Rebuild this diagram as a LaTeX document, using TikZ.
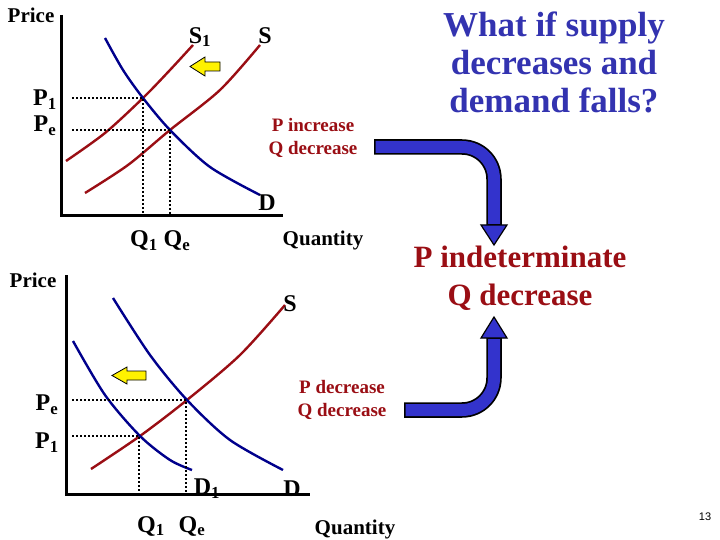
\documentclass[tikz,border=0pt]{standalone}
\usepackage{fontspec}
\setmainfont{Liberation Serif}
\newfontfamily\arialf{Liberation Sans}
\definecolor{dred}{HTML}{9A0E14}
\definecolor{dblue}{HTML}{00008C}
\definecolor{tblue}{HTML}{3333B0}
\definecolor{abl}{HTML}{3333CC}
\begin{document}
\begin{tikzpicture}[x=1pt,y=-1pt,
 ax/.style={line width=3pt},
 sup/.style={dred,line width=2.4pt},
 dem/.style={dblue,line width=2.4pt},
 dots/.style={line width=2pt,dotted},
 lab/.style={font=\bfseries\fontsize{21}{21}\selectfont},
 glab/.style={font=\bfseries\fontsize{24}{24}\selectfont},
 note/.style={dred,font=\bfseries\fontsize{19}{23}\selectfont,align=center},
 yarrow/.style={fill=yellow,draw=black,line width=0.8pt}]
\useasboundingbox (0,0) rectangle (720,540);
% ---- top graph
\draw[ax] (61,15) -- (61,216) -- (283,216);
\draw[sup] plot[smooth] coordinates {(66,161) (105,133) (143,98) (170,70) (193,45)};
\draw[sup] plot[smooth] coordinates {(85,193) (128,165) (170,130) (220,90) (260,45)};
\draw[dem] plot[smooth] coordinates {(105,38) (123,70) (143,98) (170,130) (210,167) (260,195)};
\draw[dots] (72,98) -- (143,98) -- (143,215);
\draw[dots] (72,130) -- (170,130) -- (170,215);
\node[lab] (p1) at (31,15) {Price};
\node[glab] (s1) at (200,37) {S\textsubscript{1}};
\node[glab] (s) at (265,36) {S};
\node[glab] (d) at (267,203) {D};
\node[glab] (pp1) at (45,100) {P\textsubscript{1}};
\node[glab] (pe) at (45,126) {P\textsubscript{e}};
\node[glab] (q1) at (144,241) {Q\textsubscript{1}};
\node[glab] (qe) at (177,241) {Q\textsubscript{e}};
\node[lab] (qt) at (323,240) {Quantity};
\draw[yarrow] (190,66.5) -- (205,57) -- (205,62) -- (220,62) -- (220,71) -- (205,71) -- (205,76) -- cycle;
\node[note] (n1) at (313,138) {P increase\\Q decrease};
% ---- bottom graph
\draw[ax] (66,275) -- (66,494) -- (310,494);
\draw[sup] plot[smooth] coordinates {(91,469) (140,436) (187,400) (240,355) (285,305)};
\draw[dem] plot[smooth] coordinates {(113,298) (150,355) (187,400) (230,440) (283,470)};
\draw[dem] plot[smooth] coordinates {(73,341) (105,395) (140,436) (170,460) (192,470)};
\draw[dots] (72,400) -- (186,400) -- (186,493);
\draw[dots] (72,436) -- (139,436) -- (139,493);
\node[lab] (p2) at (33,280) {Price};
\node[glab] (s2) at (290,304) {S};
\node[glab] (d2) at (292,489) {D};
\node[glab] (d1) at (207,489) {D\textsubscript{1}};
\node[glab] (pe2) at (47,405) {P\textsubscript{e}};
\node[glab] (p12) at (47,443) {P\textsubscript{1}};
\node[glab] (q12) at (151,526) {Q\textsubscript{1}};
\node[glab] (qe2) at (192,526) {Q\textsubscript{e}};
\node[lab] (qt2) at (355,529) {Quantity};
\draw[yarrow] (112,375.5) -- (127,367) -- (127,371) -- (146,371) -- (146,380) -- (127,380) -- (127,384) -- cycle;
\node[note] (n2) at (342,400) {P decrease\\Q decrease};
% ---- right
\node[tblue,font=\bfseries\fontsize{35}{38}\selectfont,align=center] (t) at (554,62) {What if supply\\decreases and\\demand falls?};
\node[dred,font=\bfseries\fontsize{31}{38}\selectfont,align=center] (r) at (520,278) {P indeterminate\\Q decrease};
\node[font=\arialf\fontsize{11}{11}\selectfont] (pg) at (705,517) {13};
% blue arrows
\coordinate (a1s) at (374,147);
\coordinate (a1c) at (494,147);
\coordinate (a1e) at (494,225);
\draw[black,line width=15.5,rounded corners=32] (a1s) -- (a1c) -- (a1e);
\draw[abl,line width=12,rounded corners=32] ([xshift=1.5]a1s) -- (a1c) -- ([yshift=1]a1e);
\draw[fill=abl,draw=black,line width=1.2pt] (481,225) -- (507,225) -- (494,245) -- cycle;
\coordinate (a2s) at (404,410);
\coordinate (a2c) at (494,410);
\coordinate (a2e) at (494,338);
\draw[black,line width=15.5,rounded corners=32] (a2s) -- (a2c) -- (a2e);
\draw[abl,line width=12,rounded corners=32] ([xshift=1.5]a2s) -- (a2c) -- ([yshift=-1]a2e);
\draw[fill=abl,draw=black,line width=1.2pt] (481,338) -- (507,338) -- (494,317) -- cycle;
\end{tikzpicture}
\end{document}
